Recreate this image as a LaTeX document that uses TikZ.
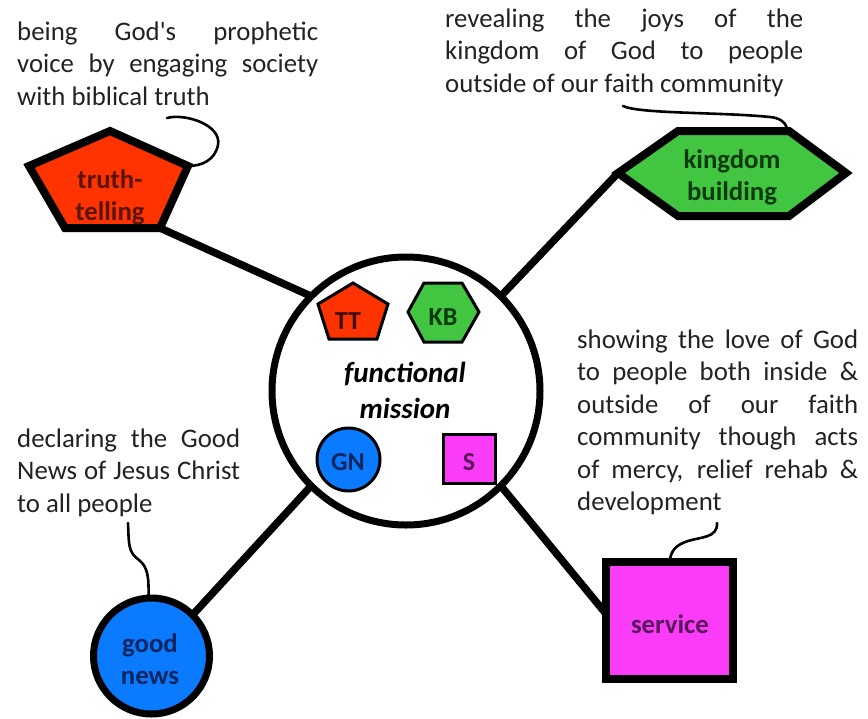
\documentclass[tikz,border=0pt]{standalone}
\usepackage{fontspec}
\setmainfont{Carlito}
\usetikzlibrary{calc}

\definecolor{ttred}{HTML}{FF3300}
\definecolor{kbgreen}{HTML}{42C642}
\definecolor{gnblue}{HTML}{0A7AFF}
\definecolor{svpink}{HTML}{FA3CF8}
\definecolor{ttdark}{HTML}{5A1400}
\definecolor{kbdark}{HTML}{0C3A0C}
\definecolor{gndark}{HTML}{0A2660}
\definecolor{svdark}{HTML}{5A185C}
\definecolor{bodytext}{HTML}{222222}

\pgfdeclarelayer{bg}
\pgfsetlayers{bg,main}

% one justified line of a paragraph block
\newcommand{\jline}[1]{\makebox[\linewidth][s]{#1}\\}
% two centred lines, first baseline on the node's base
\newcommand{\twoline}[2]{\parbox[t]{220pt}{\centering #1\\#2}}

\begin{document}
\begin{tikzpicture}[x=1pt,y=-1pt,
  body/.style={anchor=base west, inner sep=0pt, text=bodytext,
    font=\fontsize{26.8}{32.5}\selectfont},
  spoke/.style={line width=7.5pt},
  callout/.style={line width=2.6pt, line cap=round},
  bigshape/.style={line width=8pt, line join=miter},
  smallshape/.style={line width=3pt, line join=miter},
  tag/.style={anchor=base, inner sep=0pt, font=\bfseries\fontsize{26.8}{32}\selectfont},
  icon/.style={anchor=base, inner sep=0pt, font=\bfseries\fontsize{26}{30}\selectfont}]

\path[use as bounding box] (0,0) rectangle (868,718);

% central hub
\node[circle, draw, fill=white, line width=7pt, minimum size=268pt,
      inner sep=0pt, outer sep=0pt] (hub) at (406,391) {};
\node[anchor=base, inner sep=0pt, font=\bfseries\itshape\fontsize{29}{36}\selectfont]
  (fm) at (405,382) {\twoline{functional}{mission}};

% small icons inside the hub
\draw[smallshape, fill=ttred] (353,283) -- (388,304) -- (377,339) -- (329,339) -- (318,304) -- cycle;
\node[icon, text=ttdark!70!black] (tti) at (348,329) {TT};
\draw[smallshape, fill=kbgreen] (408,312) -- (424,283) -- (462,283) -- (479,312) -- (462,342) -- (424,342) -- cycle;
\node[icon, text=kbdark] (kbi) at (443,325) {KB};
\node[circle, draw, smallshape, fill=gnblue, minimum size=63pt, inner sep=0pt] (gni) at (348.5,459.5) {};
\node[icon, text=gndark] (gnt) at (348,470) {GN};
\node[rectangle, draw, smallshape, fill=svpink, minimum width=52pt, minimum height=49pt,
      inner sep=0pt] (svi) at (469.5,459) {};
\node[icon, text=svdark] (svt) at (469,470) {S};

% truth-telling pentagon
\coordinate (ttTop) at (110,131);
\coordinate (ttR) at (188,166);
\coordinate (ttBR) at (160,228);
\coordinate (ttBL) at (65,228);
\coordinate (ttL) at (29,166);
\draw[bigshape, fill=ttred] (ttTop) -- (ttR) -- (ttBR) -- (ttBL) -- (ttL) -- cycle;
\node[tag, text=ttdark] (tt) at (110,188) {\twoline{truth-}{telling}};

% kingdom building hexagon
\coordinate (kbL) at (618,173);
\coordinate (kbTL) at (678,131);
\coordinate (kbTR) at (789,131);
\coordinate (kbR) at (846,173);
\coordinate (kbBR) at (789,216);
\coordinate (kbBL) at (678,216);
\draw[bigshape, fill=kbgreen] (kbL) -- (kbTL) -- (kbTR) -- (kbR) -- (kbBR) -- (kbBL) -- cycle;
\node[tag, text=kbdark] (kb) at (732,168) {\twoline{kingdom}{building}};

% good news circle
\node[circle, draw, line width=7pt, fill=gnblue, minimum size=116pt,
      inner sep=0pt, outer sep=0pt] (gn) at (151.5,656) {};
\node[tag, text=gndark] (gnl) at (150,652) {\twoline{good}{news}};

% service square
\node[rectangle, draw, bigshape, fill=svpink, minimum width=127pt, minimum height=117pt,
      inner sep=0pt, outer sep=0pt] (sv) at (669.5,620.5) {};
\node[tag, text=svdark] (svl) at (670,633) {service};

% spokes from the hub to the four functions
\begin{pgfonlayer}{bg}
  \draw[spoke] (ttBR) -- (hub.135);
  \draw[spoke] (kbL) -- (hub.45);
  \draw[spoke] (gn.45) -- (hub.225);
  \draw[spoke] (sv.174) -- (hub.-45);
\end{pgfonlayer}

% descriptions
\node[body] (ttd) at (17,40) {\parbox[t]{301pt}{\jline{being God\textquotesingle s prophetic}\jline{voice by engaging society}with biblical truth}};
\node[body] (kbd) at (445,27) {\parbox[t]{358pt}{\jline{revealing the joys of the}\jline{kingdom of God to people}outside of our faith community}};
\node[body] (svd) at (577,348) {\parbox[t]{281pt}{\jline{showing the love of God}\jline{to people both inside \&}\jline{outside of our faith}\jline{community though acts}\jline{of mercy, relief rehab \&}development}};
\node[body] (gnd) at (17,447) {\parbox[t]{223pt}{\jline{declaring the Good}\jline{News of Jesus Christ}to all people}};

% callouts tying each description to its shape
\coordinate (ttc) at (167,118);
\draw[callout] (ttc) .. controls (185,113) and (222,125) .. (218,145)
  .. controls (215,160) and (202,166) .. (ttR);
\coordinate (kbc) at (623,106);
\coordinate (kbe) at (787,128);
\draw[callout] (kbc) .. controls (640,114) and (720,112) .. (770,117)
  .. controls (780,118) and (785,122) .. (kbe);
\coordinate (gnc) at (128,523);
\draw[callout] (gnc) .. controls (129,545) and (128,552) .. (139,560)
  .. controls (148,567) and (149,578) .. (gn.93);
\coordinate (svc) at (717,523);
\draw[callout] (svc) .. controls (718,538) and (700,537) .. (688,541)
  .. controls (676,545) and (671,550) .. (sv.north);
\end{tikzpicture}
\end{document}
